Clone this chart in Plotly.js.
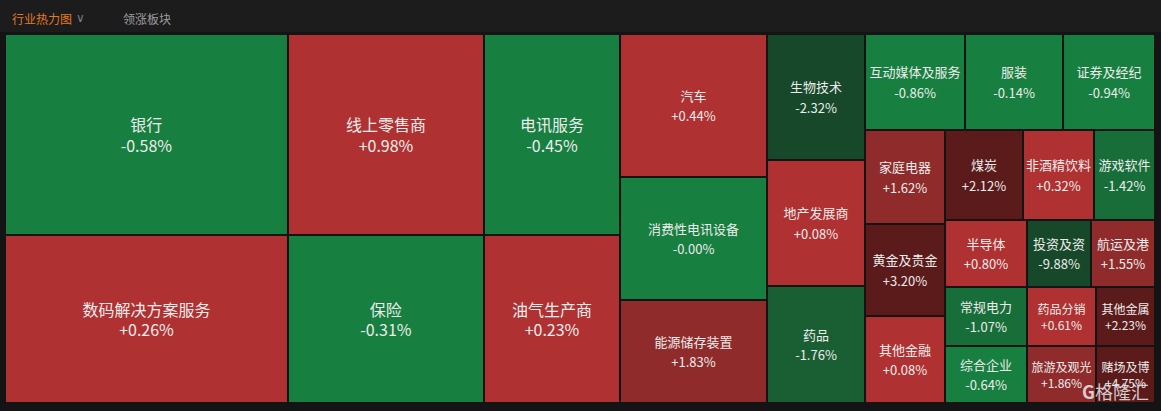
<!DOCTYPE html>
<html><head><meta charset="utf-8">
<script src="https://cdn.plot.ly/plotly-3.0.1.min.js"></script>
<style>html,body{margin:0;padding:0;background:#1c1c1c;overflow:hidden;} #chart{width:1161px;height:411px;}</style>
</head><body><div id="chart"></div>
<script>
// Industry heat map: sector names, daily change (%), size (market-cap weight)
const sectors = ['银行','数码解决方案服务','线上零售商','保险','电讯服务','油气生产商',
  '汽车','消费性电讯设备','能源储存装置','生物技术','地产发展商','药品',
  '互动媒体及服务','服装','证券及经纪','家庭电器','黄金及贵金','其他金融',
  '煤炭','非酒精饮料','游戏软件','半导体','常规电力','综合企业',
  '投资及资','航运及港','药品分销','旅游及观光','其他金属','赌场及博'];
const changes = [-0.58, 0.26, 0.98, -0.31, -0.45, 0.23,
  0.44, -0.00, 1.83, -2.32, 0.08, -1.76,
  -0.86, -0.14, -0.94, 1.62, 3.20, 0.08,
  2.12, 0.32, -1.42, 0.80, -1.07, -0.64,
  -9.88, 1.55, 0.61, 1.86, 2.23, 4.75];
const changeText = ['-0.58%','+0.26%','+0.98%','-0.31%','-0.45%','+0.23%',
  '+0.44%','-0.00%','+1.83%','-2.32%','+0.08%','-1.76%',
  '-0.86%','-0.14%','-0.94%','+1.62%','+3.20%','+0.08%',
  '+2.12%','+0.32%','-1.42%','+0.80%','-1.07%','-0.64%',
  '-9.88%','+1.55%','+0.61%','+1.86%','+2.23%','+4.75%'];
const weights = [568.8, 475.4, 394.0, 329.3, 273.4, 228.5,
  210.2, 180.8, 151.4, 123.5, 123.5, 114.7,
  96.0, 94.1, 88.3, 75.2, 73.6, 69.6,
  70.2, 63.9, 54.9, 54.9, 48.4, 46.7,
  42.9, 42.9, 40.7, 39.3, 34.8, 33.6];
const sectorGroup = ['C1','C1','C2','C2','C3','C3',
  'C4','C4','C4','C5','C5','C5',
  'RT','RT','RT','CA','CA','CA',
  'RBT','RBT','RBT','CX','CX','CX',
  'CYT','CYT','CZ','CZ','CW','CW'];
// grouping blocks of the map
const groupIds     = ['ALL','C1','C2','C3','C4','C5','R','RT','RB','CA','RBX','RBT','RBB','CX','CY','CYT','CYB','CZ','CW'];
const groupParents = ['',   'ALL','ALL','ALL','ALL','ALL','ALL','R','R','RB','RB','RBX','RBX','RBB','RBB','CY','CY','CYB','CYB'];

function cellColor(c, label) {
  if (label === '-0.00%') return '#177f3f';
  if (c >= 2) return '#5c1b1b';
  if (c >= 1.5) return '#8f2b2b';
  if (c > 0) return '#b03131';
  if (c > -1) return '#177f3f';
  if (c > -1.5) return '#186e39';
  if (c > -2) return '#1a5e33';
  return '#164829';
}
const smallCells = ['药品分销','旅游及观光','其他金属','赌场及博'];
function glyphSize(i) {
  if (i < 6) return 16;
  if (smallCells.includes(sectors[i])) return 12;
  return 13;
}
// line box size (controls the spacing between the two lines)
function lineSize(i) {
  if (i < 6) return 16;
  if (smallCells.includes(sectors[i])) return 12;
  return 15.5;
}

const ids = [], labels = [], parents = [], values = [], colors = [], texts = [], sizes = [];
groupIds.forEach((g, i) => {
  ids.push(g); labels.push(''); parents.push(groupParents[i]); values.push(0);
  colors.push('#141414'); texts.push(''); sizes.push(12);
});
sectors.forEach((s, i) => {
  ids.push('s' + i); labels.push(s); parents.push(sectorGroup[i]); values.push(weights[i]);
  colors.push(cellColor(changes[i], changeText[i]));
  const g = glyphSize(i), l = lineSize(i);
  if (g === l) {
    texts.push(s + '<br>' + changeText[i]);
  } else {
    texts.push('<span style="font-size:' + g + 'px">' + s + '</span><br><span style="font-size:' + g + 'px">' + changeText[i] + '</span>');
  }
  sizes.push(l);
});

const trace = {
  type: 'treemap',
  ids: ids, labels: labels, parents: parents, values: values,
  branchvalues: 'remainder',
  sort: false,
  text: texts,
  textinfo: 'text',
  textposition: 'middle center',
  textfont: {family: '"Noto Sans CJK SC", "Noto Sans", sans-serif', color: '#ececec', size: sizes},
  marker: {colors: colors, line: {width: 2, color: '#141414'}, pad: {t: 0, l: 0, r: 0, b: 0}},
  tiling: {packing: 'slice-dice', pad: 0},
  pathbar: {visible: false},
  hoverinfo: 'skip',
  domain: {x: [0, 1], y: [0, 1]}
};

const W = 1150, H = 369;
function px(x) { return (x - 5) / W; }
function py(y) { return (403 - y) / H; }

const layout = {
  width: 1161, height: 411,
  margin: {l: 5, r: 6, t: 34, b: 8},
  paper_bgcolor: '#1c1c1c',
  plot_bgcolor: '#141414',
  font: {family: '"Noto Sans CJK SC", "Noto Sans", sans-serif'},
  showlegend: false,
  shapes: [
    {type: 'rect', xref: 'paper', yref: 'paper', layer: 'below', x0: px(0), x1: px(1161), y0: py(411), y1: py(32),
     fillcolor: '#141414', line: {width: 0}}
  ],
  annotations: [
    {xref: 'paper', yref: 'paper', x: px(10), y: py(19), xanchor: 'left', yanchor: 'middle', showarrow: false,
     text: '行业热力图', font: {size: 12, color: '#e07a22'}},
    {xref: 'paper', yref: 'paper', x: px(80), y: py(18), xanchor: 'center', yanchor: 'middle', showarrow: false,
     text: '∨', font: {size: 12, color: '#7a7a7a', family: 'DejaVu Sans'}},
    {xref: 'paper', yref: 'paper', x: px(121), y: py(19), xanchor: 'left', yanchor: 'middle', showarrow: false,
     text: '领涨板块', font: {size: 12, color: '#9c9c9c'}},
    {xref: 'paper', yref: 'paper', x: px(1151), y: py(391), xanchor: 'right', yanchor: 'middle', showarrow: false,
     text: '<b>G</b>格隆汇', font: {size: 18, color: 'rgba(235,235,235,0.85)'}}
  ]
};

Plotly.newPlot('chart', [trace], layout, {displayModeBar: false, staticPlot: true});
</script>
</body></html>
